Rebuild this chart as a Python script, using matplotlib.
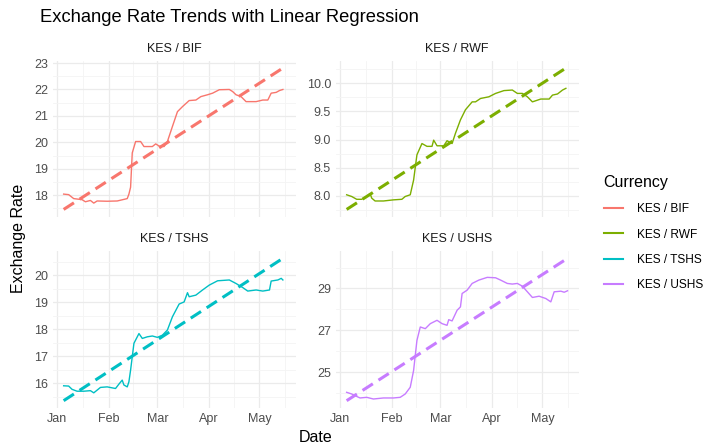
import numpy as np
import pandas as pd
import matplotlib
matplotlib.use("Agg")
import matplotlib.pyplot as plt
import matplotlib.dates as mdates
from matplotlib.lines import Line2D
from matplotlib.ticker import FixedLocator, FormatStrFormatter

plt.rcParams['font.family'] = ['Liberation Sans', 'DejaVu Sans']

START = pd.Timestamp("2024-01-01")

currencies = ["KES / BIF", "KES / RWF", "KES / TSHS", "KES / USHS"]
colors = ["#F8766D", "#7CAE00", "#00BFC4", "#C77CFF"]

# days since 1 Jan and the matching rates
bif_days = [4, 7, 10, 15, 17, 20, 22, 24, 30, 36, 42, 43, 44, 45, 47, 50, 52, 57, 59, 61,
            64, 66, 69, 72, 75, 79, 83, 86, 90, 93, 97, 103, 105, 107, 110, 113, 119, 123,
            126, 128, 131, 133, 135]
bif_rate = [18.04, 18.02, 17.87, 17.83, 17.75, 17.80, 17.70, 17.78, 17.77, 17.78, 17.87, 18.04,
            18.30, 19.60, 20.03, 20.03, 19.84, 19.84, 19.94, 19.86, 19.84, 20.03, 20.60, 21.16,
            21.35, 21.58, 21.60, 21.73, 21.80, 21.86, 21.99, 22.00, 21.92, 21.80, 21.73, 21.54,
            21.54, 21.60, 21.60, 21.86, 21.89, 21.96, 22.00]

rwf_days = [4, 7, 10, 13, 16, 18, 19, 21, 26, 32, 37, 39, 42, 44, 46, 49, 52, 55, 56, 58,
            62, 64, 67, 69, 72, 75, 79, 81, 84, 89, 93, 98, 103, 106, 109, 112, 115, 120,
            125, 127, 130, 133, 135]
rwf_rate = [8.02, 7.99, 7.94, 7.94, 7.99, 8.04, 7.96, 7.91, 7.91, 7.93, 7.94, 7.99, 8.02,
            8.28, 8.73, 8.93, 8.88, 8.88, 8.99, 8.89, 8.89, 8.98, 8.93, 9.11, 9.35, 9.53,
            9.67, 9.67, 9.73, 9.76, 9.82, 9.87, 9.88, 9.82, 9.82, 9.76, 9.67, 9.72, 9.72,
            9.79, 9.81, 9.88, 9.91]

tshs_days = [4, 7, 9, 12, 16, 20, 22, 24, 26, 30, 35, 37, 39, 40, 42, 43, 44, 46, 49, 51,
             54, 57, 60, 63, 66, 69, 73, 76, 78, 79, 83, 87, 91, 96, 103, 107, 111, 114,
             119, 123, 127, 128, 132, 134, 135]
tshs_rate = [15.91, 15.90, 15.78, 15.71, 15.71, 15.73, 15.65, 15.75, 15.85, 15.87, 15.81,
             15.97, 16.12, 15.94, 15.87, 16.06, 16.49, 17.48, 17.84, 17.66, 17.72, 17.75,
             17.70, 17.78, 17.97, 18.46, 18.93, 19.01, 19.35, 19.20, 19.26, 19.45, 19.63,
             19.79, 19.82, 19.69, 19.54, 19.41, 19.45, 19.41, 19.45, 19.78, 19.82, 19.88,
             19.82]

ushs_days = [4, 7, 9, 12, 16, 20, 26, 32, 36, 39, 42, 44, 46, 48, 51, 54, 58, 61, 64, 65,
             67, 70, 72, 73, 76, 79, 83, 88, 93, 96, 100, 103, 106, 109, 112, 115, 119, 123,
             126, 128, 132, 134, 136]
ushs_rate = [24.04, 23.96, 23.88, 23.77, 23.80, 23.72, 23.77, 23.77, 23.80, 23.96, 24.28,
             25.08, 26.52, 27.16, 27.08, 27.32, 27.48, 27.32, 27.24, 27.51, 27.45, 27.96,
             28.12, 28.76, 28.92, 29.24, 29.40, 29.53, 29.51, 29.40, 29.24, 29.21, 29.24,
             29.11, 28.84, 28.57, 28.63, 28.52, 28.36, 28.84, 28.87, 28.82, 28.89]

# fitted lm line: value at first and last date
trend_start = [17.46, 7.76, 15.36, 23.64]
trend_end = [22.81, 10.27, 20.62, 30.44]

y_breaks = [[18, 19, 20, 21, 22, 23],
            [8.0, 8.5, 9.0, 9.5, 10.0],
            [16, 17, 18, 19, 20],
            [25, 27, 29]]
y_step = [1, 0.5, 1, 2]

all_days = [bif_days, rwf_days, tshs_days, ushs_days]
all_rates = [bif_rate, rwf_rate, tshs_rate, ushs_rate]

W, H = 706, 447
fig = plt.figure(figsize=(W / 100, H / 100), dpi=100)
fig.patch.set_facecolor("white")

# panel boxes in pixels: left, top, width, height
panels = [(52.6, 61.0, 243.0, 155.5), (335.6, 61.0, 243.0, 155.5),
          (52.6, 251.2, 243.0, 156.6), (335.6, 251.2, 243.0, 156.6)]

to_date = lambda d: START + pd.to_timedelta(np.asarray(d, dtype=float), unit="D")

d_min = min(min(d) for d in all_days)
d_max = max(max(d) for d in all_days)
x_lo = mdates.date2num(to_date([d_min])[0])
x_hi = mdates.date2num(to_date([d_max])[0])
x_pad = 0.05 * (x_hi - x_lo)

month_starts = [mdates.date2num(pd.Timestamp(2024, m, 1)) for m in range(1, 7)]
month_mids = [(a + b) / 2 for a, b in zip(month_starts[:-1], month_starts[1:])]

for i, name in enumerate(currencies):
    l, t, w, h = panels[i]
    ax = fig.add_axes([l / W, 1 - (t + h) / H, w / W, h / H])
    dates = to_date(all_days[i])
    ax.plot(dates, all_rates[i], color=colors[i], lw=1.0, zorder=3)
    ends = to_date([min(all_days[i]), max(all_days[i])])
    ax.plot(ends, [trend_start[i], trend_end[i]], color=colors[i], lw=2.2,
            dashes=(4, 2.2), zorder=4, dash_capstyle="butt")

    lo = min(min(all_rates[i]), trend_start[i], trend_end[i])
    hi = max(max(all_rates[i]), trend_start[i], trend_end[i])
    pad = 0.05 * (hi - lo)
    ax.set_ylim(lo - pad, hi + pad)
    ax.set_xlim(x_lo - x_pad, x_hi + x_pad)

    step = y_step[i]
    majors = y_breaks[i]
    minors = [majors[0] - step / 2] + [b + step / 2 for b in majors]
    ax.yaxis.set_major_locator(FixedLocator(majors))
    ax.yaxis.set_minor_locator(FixedLocator(minors))
    if step == 0.5:
        ax.yaxis.set_major_formatter(FormatStrFormatter("%.1f"))

    ax.xaxis.set_major_locator(FixedLocator(month_starts))
    ax.xaxis.set_minor_locator(FixedLocator(month_mids))
    ax.xaxis.set_major_formatter(mdates.DateFormatter("%b"))

    ax.grid(which="major", color="#EBEBEB", lw=0.9)
    ax.grid(which="minor", color="#F4F4F4", lw=0.6)
    ax.set_axisbelow(True)
    for s in ax.spines.values():
        s.set_visible(False)
    ax.tick_params(which="both", length=0, labelsize=9, labelcolor="#4D4D4D")
    ax.tick_params(axis="y", pad=3.3)
    ax.tick_params(axis="x", pad=4)
    if i < 2:
        ax.tick_params(axis="x", labelbottom=False)

    ax.annotate(name, xy=(0.5, 1), xycoords="axes fraction", xytext=(0, 8.8),
                textcoords="offset points", ha="center", va="center",
                fontsize=9, color="#1A1A1A")

fig.text(40 / W, 1 - 18 / H, "Exchange Rate Trends with Linear Regression",
         ha="left", va="center", fontsize=13.2, color="black")
fig.text(19 / W, 1 - 238 / H, "Exchange Rate", rotation=90, ha="center",
         va="center", fontsize=11.5)
fig.text(315.7 / W, 1 - 438 / H, "Date", ha="center", va="center", fontsize=11.5)

# legend keys are slightly heavier than the panel lines
keys = [Line2D([], [], color=c, lw=1.5) for c in colors]
fig.legend(keys, currencies, title="Currency", loc="upper left",
           bbox_to_anchor=(593 / W, 1 - 164 / H), frameon=False, fontsize=8.6,
           title_fontsize=11.5, labelspacing=1.12, handlelength=1.6,
           handletextpad=1.2, alignment="left")

fig.savefig("out.png", dpi=100, facecolor="white")
